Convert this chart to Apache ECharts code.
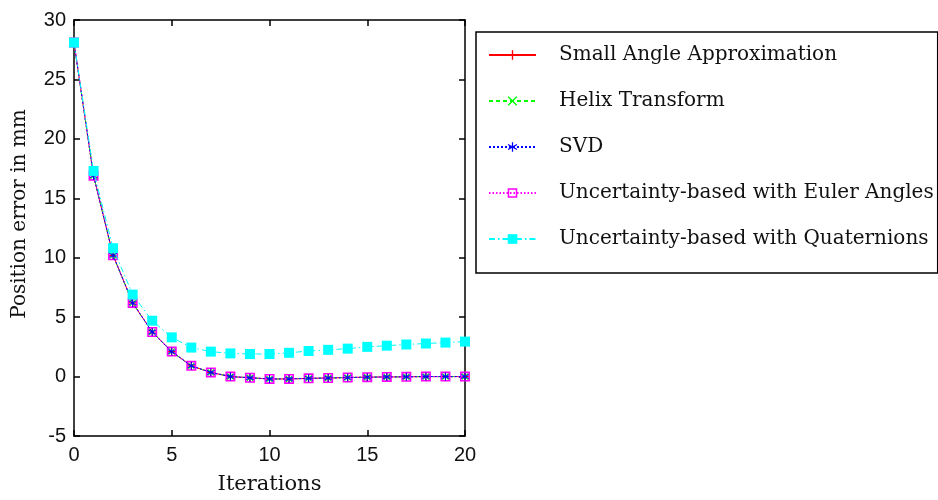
<!DOCTYPE html>
<html>
<head>
<meta charset="utf-8">
<script src="https://cdn.jsdelivr.net/npm/echarts@6/dist/echarts.min.js"></script>
<style>html,body{margin:0;padding:0;background:#fff}#c{width:938px;height:500px}</style>
</head>
<body>
<div id="c"></div>
<script>
const iterations = [0,1,2,3,4,5,6,7,8,9,10,11,12,13,14,15,16,17,18,19,20];
const seriesNames = ['Small Angle Approximation','Helix Transform','SVD','Uncertainty-based with Euler Angles','Uncertainty-based with Quaternions'];
const smallAngle = [28.1,16.9,10.2,6.2,3.75,2.1,0.9,0.35,0.0,-0.1,-0.2,-0.2,-0.15,-0.12,-0.08,-0.05,-0.03,-0.02,0.0,0.0,0.0];
const helix      = [28.1,16.9,10.2,6.2,3.75,2.1,0.9,0.35,0.0,-0.1,-0.2,-0.2,-0.15,-0.12,-0.08,-0.05,-0.03,-0.02,0.0,0.0,0.0];
const svd        = [28.1,16.9,10.2,6.2,3.75,2.1,0.9,0.35,0.0,-0.1,-0.2,-0.2,-0.15,-0.12,-0.08,-0.05,-0.03,-0.02,0.0,0.0,0.0];
const euler      = [28.1,16.9,10.2,6.2,3.75,2.1,0.9,0.35,0.0,-0.1,-0.2,-0.2,-0.15,-0.12,-0.08,-0.05,-0.03,-0.02,0.0,0.0,0.0];
const quaternion = [28.1,17.3,10.8,6.9,4.7,3.3,2.44,2.1,1.95,1.9,1.9,2.0,2.15,2.25,2.35,2.5,2.6,2.7,2.78,2.86,2.94];
const xTicks = {min:0, max:20, interval:5};
const yTicks = {min:-5, max:30, interval:5};

const pair = arr => iterations.map((x,i)=>[x,arr[i]]);
const plusPath = 'path://M4.3,0h1.4v4.3h4.3v1.4h-4.3v4.3h-1.4v-4.3h-4.3v-1.4h4.3z';
const crossPath = 'path://M1,0L5,4L9,0L10,1L6,5L10,9L9,10L5,6L1,10L0,9L4,5L0,1z';
const starPath = 'path://M4.4,0h1.2v3.9l3.4,-2l0.6,1l-3.4,2.1l3.4,2.1l-0.6,1l-3.4,-2v3.9h-1.2v-3.9l-3.4,2l-0.6,-1l3.4,-2.1l-3.4,-2.1l0.6,-1l3.4,2z';
const hollowSq = 'path://M0,0h10v10h-10z M1.6,1.6v6.8h6.8v-6.8z';

const serifFont = 'DejaVu Serif';
const sansFont = 'Liberation Sans';

const chart = echarts.init(document.getElementById('c'), null, {renderer:'canvas'});
const axisLine = {show:true, onZero:false, lineStyle:{color:'#000', width:1.5}};
const axisTick = {show:true, inside:true, length:6, lineStyle:{color:'#000', width:1.5}};
chart.setOption({
  animation:false,
  backgroundColor:'#fff',
  grid:{left:74, top:20, right:473, bottom:60, containLabel:false},
  legend:{
    orient:'vertical', left:476, top:32,
    padding:[11,4,22,12],
    itemGap:22, itemWidth:47, itemHeight:12,
    borderColor:'#000', borderWidth:1.5,
    textStyle:{fontFamily:serifFont, fontSize:20, color:'#111', lineHeight:24, padding:[0,0,0,18]},
    data:seriesNames
  },
  xAxis:[{
    type:'value', min:xTicks.min, max:xTicks.max, interval:xTicks.interval,
    name:'Iterations', nameLocation:'middle', nameGap:38,
    nameTextStyle:{fontFamily:serifFont, fontSize:21, color:'#111'},
    axisLine, axisTick, splitLine:{show:false},
    axisLabel:{fontFamily:sansFont, fontSize:20, color:'#111', margin:9}
  },{
    type:'value', position:'top', min:xTicks.min, max:xTicks.max, interval:xTicks.interval,
    axisLine, axisTick, axisLabel:{show:false}, splitLine:{show:false}
  }],
  yAxis:[{
    type:'value', min:yTicks.min, max:yTicks.max, interval:yTicks.interval,
    name:'Position error in mm', nameLocation:'middle', nameGap:44,
    nameTextStyle:{fontFamily:serifFont, fontSize:20, color:'#111', padding:[0,0,0,28]},
    axisLine, axisTick, splitLine:{show:false},
    axisLabel:{fontFamily:sansFont, fontSize:20, color:'#111', margin:8}
  },{
    type:'value', position:'right', min:yTicks.min, max:yTicks.max, interval:yTicks.interval,
    axisLine, axisTick, axisLabel:{show:false}, splitLine:{show:false}
  }],
  series:[
    {name:seriesNames[0], type:'line', data:pair(smallAngle), z:2,
     color:'#ff0000', lineStyle:{width:1, type:'solid'},
     symbol:plusPath, symbolSize:8, itemStyle:{color:'#ff0000'}},
    {name:seriesNames[1], type:'line', data:pair(helix), z:3,
     color:'#00ff00', lineStyle:{width:1, type:[4,3]},
     symbol:crossPath, symbolSize:7, itemStyle:{color:'#00ff00'}},
    {name:seriesNames[3], type:'line', data:pair(euler), z:4,
     color:'#ff00ff', lineStyle:{width:1.2, type:[1.5,2]},
     symbol:hollowSq, symbolSize:10, itemStyle:{color:'#ff00ff'}},
    {name:seriesNames[2], type:'line', data:pair(svd), z:5,
     color:'#0000ff', lineStyle:{width:1, type:[2,2]},
     symbol:starPath, symbolSize:8, itemStyle:{color:'#0000ff'}},
    {name:seriesNames[4], type:'line', data:pair(quaternion), z:6,
     color:'#00ffff', lineStyle:{width:1, type:[6,3,1.5,3]},
     symbol:'rect', symbolSize:10, itemStyle:{color:'#00ffff'}}
  ]
});
</script>
</body>
</html>
